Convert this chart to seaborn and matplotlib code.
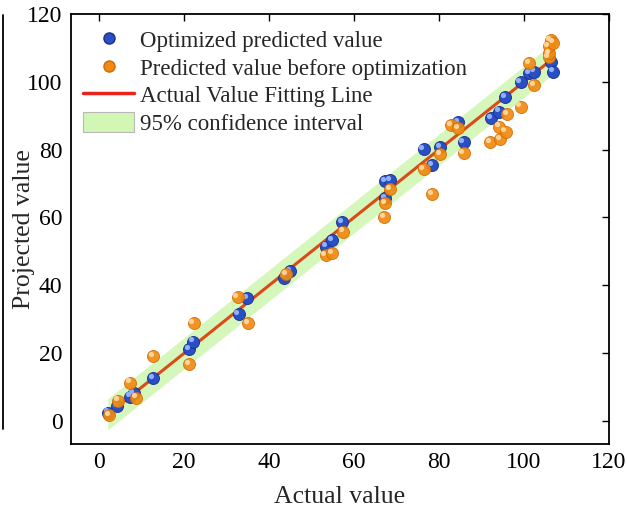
import numpy as np
import pandas as pd
import matplotlib
matplotlib.use("Agg")
import matplotlib.pyplot as plt
import matplotlib.transforms as mtransforms
from matplotlib.lines import Line2D
from matplotlib.patches import Patch
import seaborn as sns

# Optimized predicted values (blue)
opt_actual = [2.0, 4.2, 7.3, 8.1, 12.6, 21.1, 22.1, 32.8, 34.8, 43.5, 45.0, 53.5, 54.8, 57.2,
              67.3, 67.3, 68.5, 76.4, 78.3, 80.3, 84.5, 85.8, 92.2, 94.1, 95.5, 99.2, 101.2,
              102.4, 106.3, 106.8]
opt_pred = [2.5, 4.4, 7.2, 8.3, 12.6, 21.1, 23.4, 31.5, 36.2, 42.3, 44.2, 51.4, 53.4, 58.6,
            70.6, 65.6, 71.0, 80.1, 75.5, 80.7, 88.2, 82.3, 89.3, 91.2, 95.4, 100.0, 102.5,
            103.0, 105.9, 103.0]

# Predicted values before optimization (orange)
pre_actual = [2.4, 4.5, 7.3, 8.7, 12.6, 21.1, 22.2, 32.6, 35.0, 44.0, 53.3, 54.8, 57.4,
              67.1, 67.3, 68.5, 76.4, 78.3, 80.3, 82.9, 84.5, 85.8, 92.1, 94.1, 94.4, 95.7,
              96.1, 99.2, 101.2, 102.4, 105.8, 106.0, 105.8, 106.3, 106.9]
pre_pred = [1.8, 6.0, 11.3, 6.9, 19.2, 16.8, 28.8, 36.6, 28.9, 43.3, 48.9, 49.6, 55.8,
            60.1, 64.2, 68.3, 74.2, 66.8, 78.7, 87.3, 86.3, 78.9, 82.3, 86.8, 83.1, 85.3,
            90.5, 92.7, 105.6, 99.1, 107.2, 108.4, 110.4, 112.3, 111.5]

# Fitting line and confidence band
fit_x = [2.0, 107.0]
band_half = 4.6

x_ticks = [0, 20, 40, 60, 80, 100, 120]
y_ticks = [0, 20, 40, 60, 80, 100, 120]

labels = ["Optimized predicted value", "Predicted value before optimization",
          "Actual Value Fitting Line", "95% confidence interval"]

sns.set_theme(style="white")
plt.rcParams["font.family"] = ["Liberation Serif", "DejaVu Serif"]

fig = plt.figure(figsize=(6.27, 5.14), dpi=100)
ax = fig.add_axes([0.113, 0.136, 0.858, 0.837])

fx = np.array(fit_x)
ax.fill_between(fx, fx - band_half, fx + band_half, color="#a6ee6a", alpha=0.45,
                linewidth=0, zorder=1)
sns.lineplot(x=fx, y=fx, ax=ax, color="#dc4a18", linewidth=2.2, zorder=2)

df_opt = pd.DataFrame({"actual": opt_actual, "pred": opt_pred})
df_pre = pd.DataFrame({"actual": pre_actual, "pred": pre_pred})

blue = "#2a4fc4"
orange = "#f08a12"
sns.scatterplot(data=df_opt, x="actual", y="pred", ax=ax, s=75, color=blue,
                edgecolor="#1a2f8a", linewidth=0.6, zorder=3)
sns.scatterplot(data=df_pre, x="actual", y="pred", ax=ax, s=75, color=orange,
                edgecolor="#d06a00", linewidth=0.6, alpha=0.92, zorder=4)

# sphere highlights
hl = mtransforms.offset_copy(ax.transData, fig=fig, x=-1.6, y=1.6, units="points")
ax.scatter(opt_actual, opt_pred, s=14, color="#8fb0ff", linewidth=0, transform=hl, zorder=3.5)
ax.scatter(pre_actual, pre_pred, s=14, color="#ffd39a", linewidth=0, transform=hl, zorder=4.5)

ax.set_xlim(-6.7, 120)
ax.set_ylim(-6.8, 120)
ax.set_xticks(x_ticks)
ax.set_yticks(y_ticks)
ax.set_xticklabels([str(t) for t in x_ticks])
ax.set_yticklabels([str(t) for t in y_ticks])
ax.tick_params(axis="both", which="major", direction="in", length=5, width=1.0,
               top=True, right=True, labelsize=17, colors="black", pad=6)
for sp in ax.spines.values():
    sp.set_visible(True)
    sp.set_color("black")
    sp.set_linewidth(1.3)
ax.set_xlabel("Actual value", fontsize=18.5)
ax.set_ylabel("Projected value", fontsize=18.5)
ax.xaxis.set_label_coords(0.5, -0.097)
ax.yaxis.set_label_coords(-0.066, 0.5)
ax.grid(False)

handles = [
    Line2D([], [], marker="o", linestyle="none", markersize=8, markerfacecolor=blue,
           markeredgecolor="#1a2f8a"),
    Line2D([], [], marker="o", linestyle="none", markersize=8, markerfacecolor=orange,
           markeredgecolor="#d06a00"),
    Line2D([], [], color="#e8241c", linewidth=2.5),
    Patch(facecolor="#d2f7b4", edgecolor="#b8b8b8", linewidth=0.8),
]
ax.legend(handles, labels, loc="upper left", bbox_to_anchor=(-0.015, 1.012), frameon=False,
          fontsize=16.5, handlelength=2.2, handleheight=1.0, handletextpad=0.28,
          labelspacing=0.19, borderaxespad=0.5)

# artifact of neighbouring panel at the far left
fig.add_artist(Line2D([0.005, 0.005], [0.165, 0.97], transform=fig.transFigure,
                      color="black", linewidth=1.3))

fig.savefig("out.png", dpi=100)
